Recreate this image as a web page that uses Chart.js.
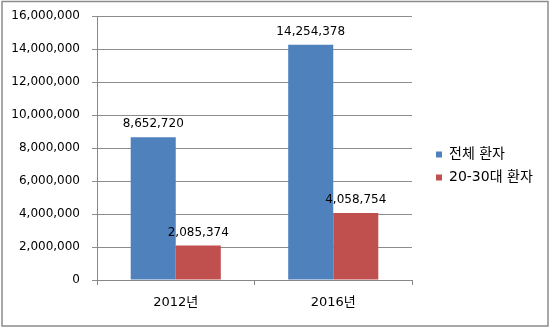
<!DOCTYPE html>
<html><head><meta charset="utf-8">
<script src="https://cdn.jsdelivr.net/npm/chart.js@4/dist/chart.umd.min.js"></script>
<style>html,body{margin:0;padding:0;background:#fff}#wrap{width:551px;height:330px}</style>
</head><body><div id="wrap"><canvas id="c" width="551" height="330"></canvas></div>
<script>
const categories = ["2012년", "2016년"];
const seriesNames = ["전체 환자", "20-30대 환자"];
const totalPatients = [8652720, 14254378];
const youngPatients = [2085374, 4058754];
const yTicks = [0, 2000000, 4000000, 6000000, 8000000, 10000000, 12000000, 14000000, 16000000];

const FONT = "'DejaVu Sans', 'Noto Sans CJK KR', sans-serif";

const borderPlugin = {
  id: 'border',
  beforeDraw(chart) {
    const ctx = chart.ctx;
    ctx.save();
    ctx.fillStyle = '#fff';
    ctx.fillRect(0, 0, chart.width, chart.height);
    ctx.strokeStyle = '#8c8c8c';
    ctx.lineWidth = 1.5;
    ctx.strokeRect(2, 1.5, 546, 324.5);
    ctx.restore();
  }
};

const legendPlacer = {
  id: 'legendPlacer',
  beforeLayout(chart) {
    const lg = chart.legend;
    if (lg && !lg._patched) {
      const f = lg.fit.bind(lg);
      lg.fit = function () { f(); this.width = 139; };
      lg._patched = true;
    }
  },
  afterLayout(chart) {
    const lg = chart.legend;
    if (lg) {
      const dx = 437 - 10 - lg.left;
      lg.left += dx; lg.right += dx;
      const dy = 166 - (lg.top + lg.bottom) / 2;
      lg.top += dy; lg.bottom += dy;
    }
  }
};

const labelPlugin = {
  id: 'valueLabels',
  afterDatasetsDraw(chart) {
    const ctx = chart.ctx;
    ctx.save();
    ctx.font = "12px " + FONT;
    ctx.fillStyle = '#000';
    ctx.textAlign = 'center';
    ctx.textBaseline = 'alphabetic';
    chart.data.datasets.forEach((ds, i) => {
      chart.getDatasetMeta(i).data.forEach((bar, j) => {
        ctx.fillText(ds.data[j].toLocaleString('en-US'), bar.x, bar.y - 10);
      });
    });
    ctx.restore();
  }
};

new Chart(document.getElementById('c'), {
  type: 'bar',
  data: {
    labels: categories,
    datasets: [
      { label: seriesNames[0], data: totalPatients, backgroundColor: '#4F81BD' },
      { label: seriesNames[1], data: youngPatients, backgroundColor: '#C0504D' }
    ]
  },
  options: {
    responsive: false,
    animation: false,
    devicePixelRatio: 1,
    layout: { padding: { left: 0, top: 16, right: 0, bottom: 0 } },
    datasets: { bar: { barPercentage: 1, categoryPercentage: 0.572 } },
    plugins: {
      legend: {
        position: 'right',
        align: 'center',
        labels: {
          font: { size: 14, family: FONT },
          color: '#000',
          boxWidth: 6, boxHeight: 6,
          padding: 9
        }
      },
      tooltip: { enabled: false }
    },
    scales: {
      x: {
        afterFit(scale) { scale.height = 50; scale.paddingLeft = 0; scale.paddingRight = 0; },
        grid: { offset: true, drawOnChartArea: false, tickLength: 5, color: '#888' },
        border: { color: '#888' },
        ticks: { font: { size: 13, family: FONT }, color: '#000', padding: 10 }
      },
      y: {
        min: 0, max: 16000000,
        afterFit(scale) { scale.width = 97; scale.paddingTop = 0; scale.paddingBottom = 0; },
        afterBuildTicks(scale) { scale.ticks = yTicks.map(v => ({ value: v })); },
        grid: { color: '#8c8c8c', tickLength: 5 },
        border: { color: '#888' },
        ticks: {
          font: { size: 12, family: FONT }, color: '#000', padding: 12,
          callback: v => v.toLocaleString('en-US')
        }
      }
    }
  },
  plugins: [borderPlugin, legendPlacer, labelPlugin]
});
</script></body></html>
